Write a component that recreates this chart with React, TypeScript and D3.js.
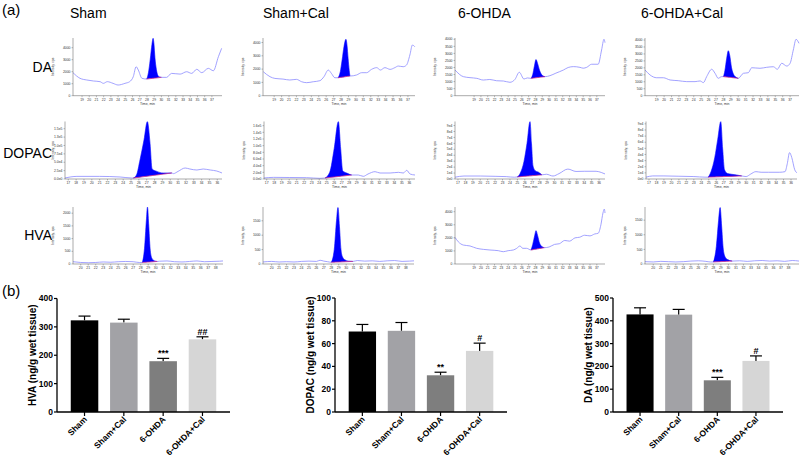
import React from 'react';
import * as d3 from 'd3';

type Pt = [number, number];

// ---------------- bar chart data ----------------
const groups = ['Sham', 'Sham+Cal', '6-OHDA', '6-OHDA+Cal'];
const barColors = ['#000000', '#a2a2a6', '#7e7e7e', '#d6d6d6'];

const hvaMean = [323, 315, 179, 256];
const hvaSem = [15, 12, 10, 9];
const hvaSig = ['', '', '***', '##'];
const hvaTicks = [0, 100, 200, 300, 400];

const dopacMean = [70.6, 71.2, 32.2, 53.6];
const dopacSem = [6.2, 7.3, 2.7, 6.8];
const dopacSig = ['', '', '**', '#'];
const dopacTicks = [0, 20, 40, 60, 80, 100];

const daMean = [428, 427, 139, 224];
const daSem = [29, 23, 13, 22];
const daSig = ['', '', '***', '#'];
const daTicks = [0, 100, 200, 300, 400, 500];

// ---------------- chromatogram labels / ticks ----------------
const colTitles = ['Sham', 'Sham+Cal', '6-OHDA', '6-OHDA+Cal'];
const rowTitles = ['DA', 'DOPAC', 'HVA'];

const daTimeTicks = [19, 20, 21, 22, 23, 24, 25, 26, 27, 28, 29, 30, 31, 32, 33, 34, 35, 36, 37];
const dopacTimeTicks = [17, 18, 19, 20, 21, 22, 23, 24, 25, 26, 27, 28, 29, 30, 31, 32, 33, 34, 35, 36];
const hvaTimeTicks = [20, 21, 22, 23, 24, 25, 26, 27, 28, 29, 30, 31, 32, 33, 34, 35, 36, 37, 38];

const intTicksK = [0, 1000, 2000, 3000, 4000];
const intTicksHalfK = [0, 500, 1000, 1500, 2000, 2500, 3000, 3500, 4000];
const intTicksE5a = [0, 25000, 50000, 75000, 100000, 125000, 150000];
const intTicksE5b = [0, 20000, 40000, 60000, 80000, 100000, 120000, 140000, 160000];
const intTicksE4 = [0, 10000, 20000, 30000, 40000, 50000, 60000, 70000, 80000, 90000];
const intTicks2000 = [0, 500, 1000, 1500, 2000];
const intTicks1500 = [0, 500, 1000, 1500];

// ---------------- chromatogram traces [time, intensity] ----------------
const daSham: Pt[] = [[17.75,1920],[18.72,1450],[19.65,1310],[20.6,1225],[21.5,1170],[21.96,1030],[22.5,1170],[23.3,1030],[24.0,890],[24.95,1030],[25.6,1170],[26.1,1580],[26.5,2420],[26.8,2140],[27.3,1450],[27.96,1390],[28.2,1900],[28.45,3000],[28.7,4300],[28.85,4780],[28.97,4300],[29.1,3200],[29.3,2200],[29.5,1700],[29.75,1560],[30.0,1530],[30.73,1530],[31.4,1860],[32.6,1800],[33.5,2000],[34.2,1860],[34.9,2200],[35.6,1920],[36.5,2280],[37.2,2080],[37.9,3250],[38.35,3950]];
const daShamPeak = [27.96, 30.0];

const daShamCal: Pt[] = [[17.55,1800],[18.44,1430],[19.1,1300],[20.2,1250],[21.1,1180],[22.0,1230],[22.7,1050],[23.37,980],[24.26,1050],[25.16,1130],[25.7,1430],[26.28,1930],[26.7,1680],[27.17,1350],[27.6,1350],[27.9,1800],[28.15,2700],[28.4,3700],[28.66,4240],[28.8,3800],[28.95,2800],[29.1,1900],[29.2,1480],[30.1,1560],[30.77,1730],[31.44,1730],[32.1,1980],[32.8,2110],[33.3,1930],[33.9,2110],[34.6,1980],[35.24,2110],[35.7,2230],[36.36,2180],[36.8,2300],[37.26,3060],[37.6,3810],[37.93,3680]];
const daShamCalPeak = [27.6, 29.2];

const daOhda: Pt[] = [[16.2,1820],[17.42,1350],[18.4,1280],[19.4,1230],[20.35,1110],[21.3,1150],[22.3,1060],[23.3,1040],[24.26,950],[25.0,1160],[25.63,1660],[26.32,1180],[26.8,1260],[27.34,1230],[27.6,1500],[27.85,2100],[28.08,2560],[28.3,2300],[28.6,1800],[28.9,1500],[29.4,1350],[30.13,1420],[31.0,1600],[32.1,1820],[32.8,2000],[33.55,2060],[34.0,2050],[34.53,2010],[35.0,1950],[35.51,2010],[36.24,2230],[37.2,2230],[37.7,3240],[38.05,4000],[38.2,3760]];
const daOhdaPeak = [27.34, 29.4];

const daOhdaCal: Pt[] = [[17.42,1850],[18.1,1490],[19.0,1290],[19.9,1290],[20.8,1130],[21.9,1080],[23.05,1010],[24.17,1010],[24.85,1060],[25.3,940],[25.74,1370],[26.42,1900],[26.87,1610],[27.3,1250],[27.77,1370],[28.0,1370],[28.2,1800],[28.45,2700],[28.66,3230],[28.85,2900],[29.1,2000],[29.4,1500],[29.7,1330],[30.0,1250],[30.7,1610],[31.36,1650],[31.82,2010],[32.94,1970],[33.84,2040],[34.74,2080],[35.28,1900],[35.87,2330],[36.55,2130],[37.0,2330],[37.43,3280],[37.8,4050],[38.2,3760]];
const daOhdaCalPeak = [28.0, 30.0];

const dopacSham: Pt[] = [[16.58,3000],[18.1,7800],[21.0,7800],[23.6,6000],[25.1,3000],[25.3,3000],[25.7,12000],[26.15,57600],[26.66,117000],[27.08,171000],[27.42,107000],[27.68,30000],[28.28,22700],[29.12,17900],[30.2,17900],[30.4,16000],[31.0,22700],[31.9,32800],[32.5,29800],[33.4,26800],[34.2,29800],[35.1,26800],[35.93,23800],[36.6,17900]];
const dopacShamPeak = [25.3, 30.2];

const dopacShamCal: Pt[] = [[16.64,3000],[17.9,4900],[20.0,4500],[22.3,4000],[24.1,2000],[24.77,3000],[25.4,20000],[26.0,92000],[26.55,172000],[26.85,92000],[27.12,25000],[27.65,18000],[28.32,12000],[29.2,12000],[29.87,8000],[30.5,15000],[31.44,22000],[32.1,18000],[33.44,18000],[34.55,20000],[35.2,18000],[35.66,26000],[36.1,15000],[36.76,12000]];
const dopacShamCalPeak = [24.77, 28.32];

const dopacOhda: Pt[] = [[16.6,3000],[17.8,5000],[20.0,5000],[22.0,4500],[23.5,4000],[24.6,3000],[25.0,3500],[25.4,10000],[25.9,30000],[26.3,60000],[26.7,96500],[26.9,60000],[27.1,22000],[27.4,14000],[27.9,11000],[28.3,7000],[28.9,8000],[29.8,5000],[30.6,9000],[31.8,16700],[32.9,12700],[34.0,13000],[35.6,13000],[36.3,11000],[36.8,8500]];
const dopacOhdaPeak = [25.0, 28.3];

const dopacOhdaCal: Pt[] = [[16.6,3000],[17.5,5000],[19.0,5000],[21.0,4500],[23.0,4000],[24.5,3000],[24.9,3000],[25.3,12000],[25.8,35000],[26.2,65000],[26.6,93500],[26.85,50000],[27.1,15000],[27.5,9000],[28.5,7000],[29.4,5000],[30.0,4000],[30.6,8000],[31.3,12000],[32.0,11000],[33.0,11000],[34.5,11000],[35.2,12000],[35.5,25000],[35.8,43000],[36.1,35000],[36.5,15000],[36.8,10000]];
const dopacOhdaCalPeak = [24.9, 29.4];

const hvaSham: Pt[] = [[18.97,90],[20,60],[21,50],[22,60],[23,80],[24,70],[25,90],[26,100],[27,90],[27.8,60],[28.2,60],[28.5,600],[28.75,1700],[28.9,2240],[29.05,1600],[29.25,600],[29.45,250],[29.7,150],[30.0,110],[30.2,100],[30.5,110],[31.5,120],[32.5,90],[33.5,80],[34.5,100],[35.5,120],[36.5,90],[37.5,100],[38.5,110],[38.97,120]];
const hvaShamPeak = [28.2, 30.2];

const hvaShamCal: Pt[] = [[18.84,70],[20,90],[21,70],[22,80],[23,70],[24,90],[25,100],[26,90],[26.5,130],[27,100],[27.5,80],[28.0,60],[28.4,500],[28.7,1500],[28.9,1960],[29.1,1300],[29.3,500],[29.5,250],[29.8,150],[30.3,100],[30.9,90],[31.5,120],[32.5,100],[33.5,110],[34.5,90],[35.5,110],[36.5,120],[37.5,90],[38.5,100],[39.1,110]];
const hvaShamCalPeak = [28.0, 30.9];

const hvaOhda: Pt[] = [[16.2,2040],[16.68,1700],[17.42,1450],[18.4,1380],[19.38,1200],[20.35,1120],[21.33,1070],[22.55,1020],[23.28,940],[24.0,1020],[24.75,1070],[25.25,1200],[25.73,1380],[26.13,1200],[26.71,1200],[27.34,1070],[27.6,1500],[27.9,2200],[28.08,2550],[28.3,2200],[28.6,1600],[28.9,1350],[29.3,1250],[30.0,1300],[30.8,1500],[31.5,1550],[32.3,1800],[33.0,1750],[33.8,2000],[34.5,2050],[35.2,2200],[36.0,2150],[36.7,2300],[37.2,2350],[37.6,3000],[37.9,3900],[38.1,4200],[38.2,3900]];
const hvaOhdaPeak = [27.34, 29.3];

const hvaOhdaCal: Pt[] = [[18.9,80],[20,70],[21,90],[22,80],[23,70],[24,80],[25,100],[26,110],[27,90],[27.6,70],[28.0,70],[28.4,600],[28.7,1500],[28.9,1930],[29.1,1300],[29.3,550],[29.55,250],[29.9,150],[30.5,100],[31.5,110],[32.5,90],[33.5,110],[34.5,120],[35.5,100],[36.5,110],[37.5,90],[38.5,120],[39.4,100]];
const hvaOhdaCalPeak = [28.0, 30.5];

// ---------------- layout ----------------
const FONT = "'Liberation Sans', Arial, Helvetica, sans-serif";
const rowBox = [
  { y: 38, h: 57.7 },
  { y: 121.5, h: 57.5 },
  { y: 207, h: 57 },
];

type Fmt = 'int' | 'e1' | 'e0';
interface Panel {
  row: number; col: number; x: number; w: number;
  tDom: [number, number]; yMax: number; yTicks: number[]; fmt: Fmt;
  tTicks: number[]; trace: Pt[]; peak: number[];
}

const panels: Panel[] = [
  { row: 0, col: 0, x: 73, w: 149, tDom: [17.75, 38.4], yMax: 4810, yTicks: intTicksK, fmt: 'int', tTicks: daTimeTicks, trace: daSham, peak: daShamPeak },
  { row: 0, col: 1, x: 263, w: 152, tDom: [17.5, 37.95], yMax: 4340, yTicks: intTicksK, fmt: 'int', tTicks: daTimeTicks, trace: daShamCal, peak: daShamCalPeak },
  { row: 0, col: 2, x: 455, w: 150, tDom: [16.2, 38.2], yMax: 4090, yTicks: intTicksHalfK, fmt: 'int', tTicks: daTimeTicks, trace: daOhda, peak: daOhdaPeak },
  { row: 0, col: 3, x: 645, w: 154, tDom: [17.42, 38.2], yMax: 4145, yTicks: intTicksHalfK, fmt: 'int', tTicks: daTimeTicks, trace: daOhdaCal, peak: daOhdaCalPeak },
  { row: 1, col: 0, x: 65, w: 157, tDom: [16.58, 36.6], yMax: 171500, yTicks: intTicksE5a, fmt: 'e1', tTicks: dopacTimeTicks, trace: dopacSham, peak: dopacShamPeak },
  { row: 1, col: 1, x: 264, w: 151, tDom: [16.64, 36.76], yMax: 172500, yTicks: intTicksE5b, fmt: 'e1', tTicks: dopacTimeTicks, trace: dopacShamCal, peak: dopacShamCalPeak },
  { row: 1, col: 2, x: 455, w: 150, tDom: [16.6, 36.8], yMax: 96800, yTicks: intTicksE4, fmt: 'e0', tTicks: dopacTimeTicks, trace: dopacOhda, peak: dopacOhdaPeak },
  { row: 1, col: 3, x: 646, w: 151, tDom: [16.6, 36.8], yMax: 93800, yTicks: intTicksE4, fmt: 'e0', tTicks: dopacTimeTicks, trace: dopacOhdaCal, peak: dopacOhdaCalPeak },
  { row: 2, col: 0, x: 73, w: 150, tDom: [18.97, 38.97], yMax: 2244, yTicks: intTicks2000, fmt: 'int', tTicks: hvaTimeTicks, trace: hvaSham, peak: hvaShamPeak },
  { row: 2, col: 1, x: 263, w: 151, tDom: [18.84, 39.1], yMax: 1979, yTicks: intTicks1500, fmt: 'int', tTicks: hvaTimeTicks, trace: hvaShamCal, peak: hvaShamCalPeak },
  { row: 2, col: 2, x: 455, w: 150, tDom: [16.2, 38.2], yMax: 4361, yTicks: intTicksK, fmt: 'int', tTicks: daTimeTicks, trace: hvaOhda, peak: hvaOhdaPeak },
  { row: 2, col: 3, x: 645, w: 154, tDom: [18.9, 39.4], yMax: 1950, yTicks: intTicks1500, fmt: 'int', tTicks: hvaTimeTicks, trace: hvaOhdaCal, peak: hvaOhdaCalPeak },
];

function fmtVal(v: number, f: Fmt): string {
  if (f === 'int') return String(v);
  if (f === 'e1') return v.toExponential(1).replace('+', '');
  return v.toExponential(0).replace('+', '');
}

function Chromatogram({ p }: { p: Panel }) {
  const { y: y0, h } = rowBox[p.row];
  const xs = d3.scaleLinear().domain(p.tDom).range([p.x, p.x + p.w]);
  const ys = d3.scaleLinear().domain([0, p.yMax]).range([y0 + h, y0]);
  const line = d3.line<Pt>().x(d => xs(d[0])).y(d => ys(d[1])).curve(d3.curveMonotoneX);
  const [p0, p1] = p.peak;
  const a = p.trace.find(d => d[0] === p0)!;
  const b = p.trace.find(d => d[0] === p1)!;
  const base = (t: number) => a[1] + (b[1] - a[1]) * (t - p0) / (p1 - p0);
  const seg = p.trace.filter(d => d[0] >= p0 && d[0] <= p1);
  const area = d3.area<Pt>().x(d => xs(d[0])).y0(d => ys(base(d[0]))).y1(d => ys(d[1])).curve(d3.curveMonotoneX);
  const bottom = y0 + h;
  const lx = p.col === 0 ? 54 : p.x - 19;
  return (
    <g>
      <path d={line(p.trace) || ''} fill="none" stroke="#8a8aff" strokeWidth={0.8} />
      <path d={area(seg) || ''} fill="#0000ff" stroke="#0000ff" strokeWidth={0.3} />
      <line x1={xs(p0)} y1={ys(a[1])} x2={xs(p1)} y2={ys(b[1])} stroke="#ff3366" strokeWidth={0.6} />
      <line x1={p.x} y1={y0} x2={p.x} y2={bottom} stroke="#555" strokeWidth={0.5} />
      <line x1={p.x} y1={bottom} x2={p.x + p.w} y2={bottom} stroke="#555" strokeWidth={0.5} />
      {p.yTicks.map(v => (
        <g key={'y' + v}>
          <line x1={p.x - 1.5} x2={p.x} y1={ys(v)} y2={ys(v)} stroke="#555" strokeWidth={0.4} />
          <text x={p.x - 2.5} y={ys(v)} dy="0.35em" textAnchor="end" fontSize={3.4} fill="#333" fontFamily={FONT}>{fmtVal(v, p.fmt)}</text>
        </g>
      ))}
      {p.tTicks.map(t => (
        <g key={'t' + t}>
          <line x1={xs(t)} x2={xs(t)} y1={bottom} y2={bottom + 1.5} stroke="#555" strokeWidth={0.4} />
          <text x={xs(t)} y={bottom + 4.8} textAnchor="middle" fontSize={3.4} fill="#333" fontFamily={FONT}>{t}</text>
        </g>
      ))}
      <text x={p.x + p.w / 2} y={bottom + 9} textAnchor="middle" fontSize={3.4} fill="#333" fontFamily={FONT}>Time, min</text>
      <text transform={`translate(${lx},${y0 + h * 0.5}) rotate(-90)`} textAnchor="middle" fontSize={3.2} fill="#333" fontFamily={FONT}>Intensity, cps</text>
    </g>
  );
}

interface BarProps {
  x0: number; x1: number; yTop: number; max: number; ticks: number[];
  means: number[]; sems: number[]; sig: string[]; title: string;
}

function BarChart({ x0, x1, yTop, max, ticks, means, sems, sig, title }: BarProps) {
  const yBottom = 412;
  const x = d3.scaleBand<string>().domain(groups).range([x0, x1]).paddingInner(0.3).paddingOuter(0.35);
  const y = d3.scaleLinear().domain([0, max]).range([yBottom, yTop]);
  const bw = x.bandwidth();
  return (
    <g fontFamily={FONT} fontWeight="bold">
      {groups.map((g, i) => {
        const cx = (x(g) as number) + bw / 2;
        const top = y(means[i]);
        const cap = y(means[i] + sems[i]);
        return (
          <g key={g}>
            <line x1={cx} x2={cx} y1={top} y2={cap} stroke="#000" strokeWidth={1.2} />
            <line x1={cx - 6} x2={cx + 6} y1={cap} y2={cap} stroke="#000" strokeWidth={1.2} />
            <rect x={x(g)} y={top} width={bw} height={yBottom - top} fill={barColors[i]} />
            {sig[i] && (
              <text x={cx} y={cap - 2} textAnchor="middle" fontSize={9} fill="#000">{sig[i]}</text>
            )}
            <line x1={cx} x2={cx} y1={yBottom} y2={yBottom + 4} stroke="#000" strokeWidth={1.2} />
            <text transform={`translate(${cx + 3},${yBottom + 8}) rotate(-45)`} textAnchor="end" fontSize={8.5} fill="#000">{g}</text>
          </g>
        );
      })}
      <line x1={x0} x2={x0} y1={yTop} y2={yBottom} stroke="#000" strokeWidth={1.3} />
      <line x1={x0} x2={x1} y1={yBottom} y2={yBottom} stroke="#000" strokeWidth={1.3} />
      {ticks.map(t => (
        <g key={t}>
          <line x1={x0 - 3} x2={x0} y1={y(t)} y2={y(t)} stroke="#000" strokeWidth={1.2} />
          <text x={x0 - 4} y={y(t)} dy="0.35em" textAnchor="end" fontSize={8.5} fill="#000">{t}</text>
        </g>
      ))}
      <text transform={`translate(${x0 - 21},${(yTop + yBottom) / 2}) rotate(-90)`} textAnchor="middle" fontSize={10} fill="#000">{title}</text>
    </g>
  );
}

const colTitleX = [70, 263, 458, 641];
const rowTitleY = [72, 158, 240];

export default function App() {
  return (
    <svg width={800} height={461} style={{ position: 'absolute', left: 0, top: 0, background: '#fff' }}>
      <rect width={800} height={461} fill="#fff" />
      <text x={2} y={15} fontSize={15} fontFamily={FONT} fill="#000">(a)</text>
      <text x={2} y={296} fontSize={15} fontFamily={FONT} fill="#000">(b)</text>
      {colTitles.map((t, i) => (
        <text key={t} x={colTitleX[i]} y={18} fontSize={14} fontFamily={FONT} fill="#000">{t}</text>
      ))}
      {rowTitles.map((t, i) => (
        <text key={t} x={52} y={rowTitleY[i]} textAnchor="end" fontSize={14} fontFamily={FONT} fill="#000">{t}</text>
      ))}
      {panels.map((p, i) => <Chromatogram key={i} p={p} />)}
      <BarChart x0={57} x1={230} yTop={298.5} max={400} ticks={hvaTicks} means={hvaMean} sems={hvaSem} sig={hvaSig} title="HVA (ng/g wet tissue)" />
      <BarChart x0={335} x1={507} yTop={298} max={100} ticks={dopacTicks} means={dopacMean} sems={dopacSem} sig={dopacSig} title="DOPAC (ng/g wet tissue)" />
      <BarChart x0={613} x1={783} yTop={298} max={500} ticks={daTicks} means={daMean} sems={daSem} sig={daSig} title="DA (ng/g wet tissue)" />
    </svg>
  );
}
